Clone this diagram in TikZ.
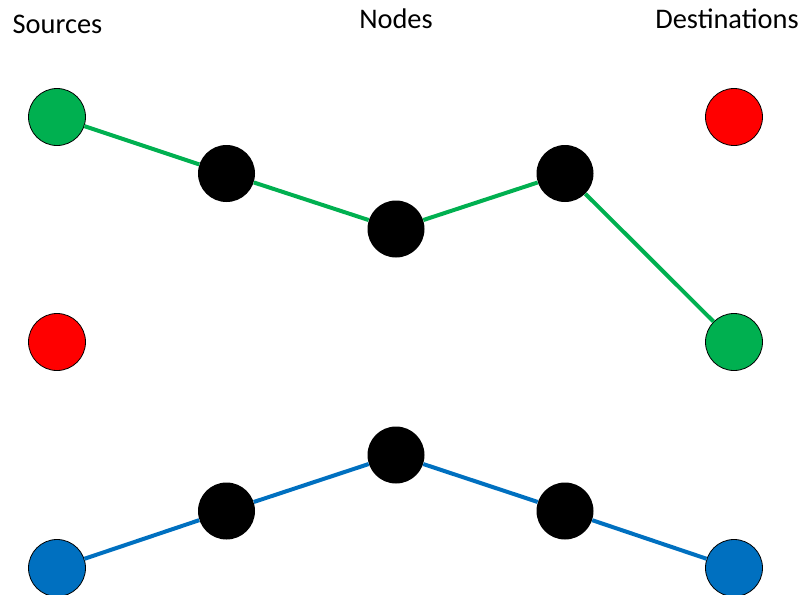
\documentclass[tikz,border=0pt]{standalone}
\usepackage{fontspec}
\setmainfont{Carlito}
\definecolor{srcgreen}{HTML}{00B050}
\definecolor{srcblue}{HTML}{0070C0}
\definecolor{srcred}{HTML}{FF0000}
\tikzset{
  host/.style={circle, draw=black, line width=0.6pt, minimum size=42.75pt, inner sep=0pt},
  router/.style={circle, fill=black, minimum size=42.75pt, inner sep=0pt},
  path/.style={line width=3pt}
}
\begin{document}
\begin{tikzpicture}[x=0.75pt, y=-0.75pt, font=\fontsize{21.3}{25}\selectfont, line join=round]
\useasboundingbox (0,0) rectangle (801,594);
% column titles
\node[anchor=base] (tsrc) at (57.5,33) {Sources};
\node[anchor=base] (tnod) at (396,28) {Nodes};
\node[anchor=base] (tdst) at (727,28) {Destinations};
% end hosts
\node[host, fill=srcgreen] (s1) at (57,117) {};
\node[host, fill=srcred]   (s2) at (57,342) {};
\node[host, fill=srcblue]  (s3) at (57,568) {};
\node[host, fill=srcred]   (d1) at (734,117) {};
\node[host, fill=srcgreen] (d2) at (734,342) {};
\node[host, fill=srcblue]  (d3) at (734,568) {};
% intermediate nodes
\node[router] (a1) at (226.5,173.5) {};
\node[router] (a2) at (396,229) {};
\node[router] (a3) at (565,173.5) {};
\node[router] (b1) at (226.5,511) {};
\node[router] (b2) at (396,455) {};
\node[router] (b3) at (565,511) {};
% routes
\draw[path, srcgreen] (s1) -- (a1) -- (a2) -- (a3) -- (d2);
\draw[path, srcblue]  (s3) -- (b1) -- (b2) -- (b3) -- (d3);
\end{tikzpicture}
\end{document}
